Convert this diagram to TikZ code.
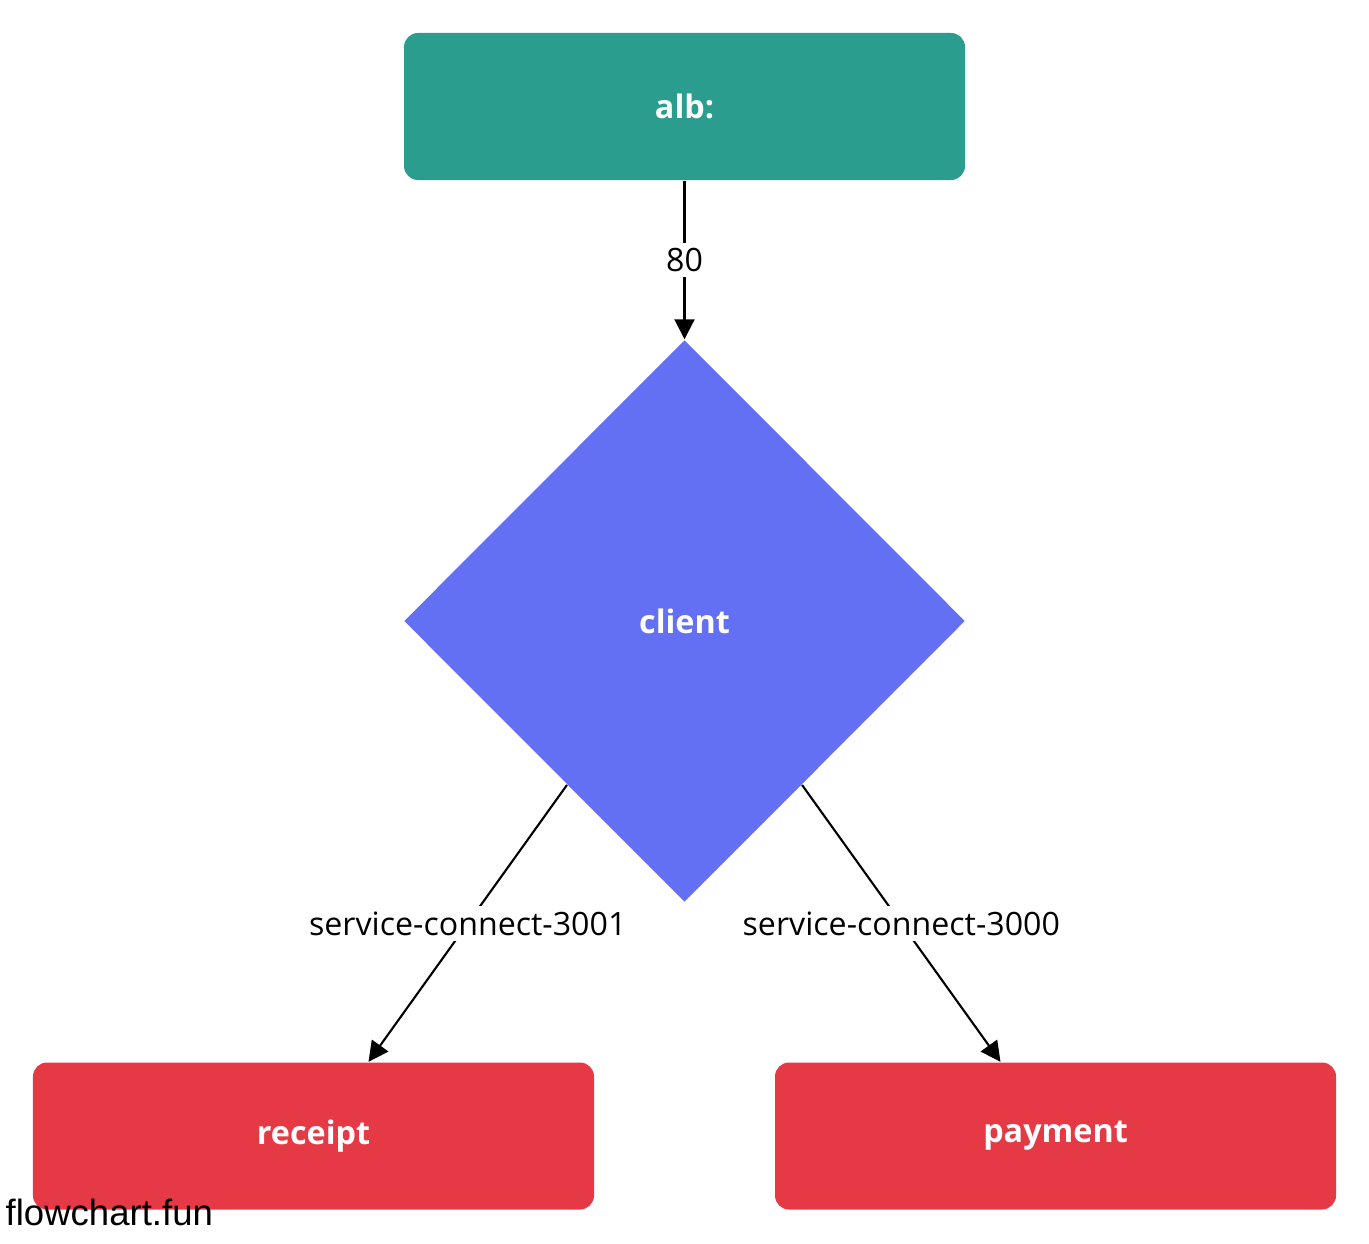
\documentclass[tikz,border=0pt]{standalone}
\usepackage{fontspec}
\setmainfont{Open Sans}
\newfontfamily\markfont{Liberation Sans}
\usetikzlibrary{shapes.geometric,arrows.meta}
\definecolor{albgreen}{HTML}{2A9D8F}
\definecolor{clientblue}{HTML}{6370F4}
\definecolor{svcred}{HTML}{E63946}
\begin{document}
\begin{tikzpicture}[
    box/.style={rectangle,rounded corners=1.4mm,minimum width=5.61cm,minimum height=1.47cm,
      inner sep=0pt,text=white,font=\fontsize{9.2}{11}\selectfont\bfseries},
    decision/.style={diamond,minimum width=5.61cm,minimum height=5.62cm,inner sep=0pt,
      fill=clientblue,text=white,font=\fontsize{9.2}{11}\selectfont\bfseries},
    link/.style={line width=0.6pt,-{Triangle[length=2mm,width=2mm]}},
    portlabel/.style={fill=white,inner sep=1.5pt,font=\fontsize{9.15}{11}\selectfont}
  ]
        \useasboundingbox (0,0) rectangle (13.69,12.43);
        \node[box,fill=albgreen] (alb) at (6.845,11.365) {alb:};
        \node[decision] (client) at (6.845,6.22) {client};
        \node[box,fill=svcred] (receipt) at (3.135,1.07) {receipt};
        \node[box,fill=svcred] (payment) at (10.555,1.07) {payment};
        \draw[link] (alb) -- (client) node[midway,portlabel] {80};
        \draw[link] (client) -- ([xshift=5.5mm]receipt.north) node[midway,portlabel] {service-connect-3001};
        \draw[link] (client) -- ([xshift=-5.5mm]payment.north) node[midway,portlabel] {service-connect-3000};
        \node[anchor=base west,inner sep=0pt,font=\markfont\fontsize{10.4}{12}\selectfont] (brand) at (0.05,0.18) {flowchart.fun};
      \end{tikzpicture}
\end{document}
